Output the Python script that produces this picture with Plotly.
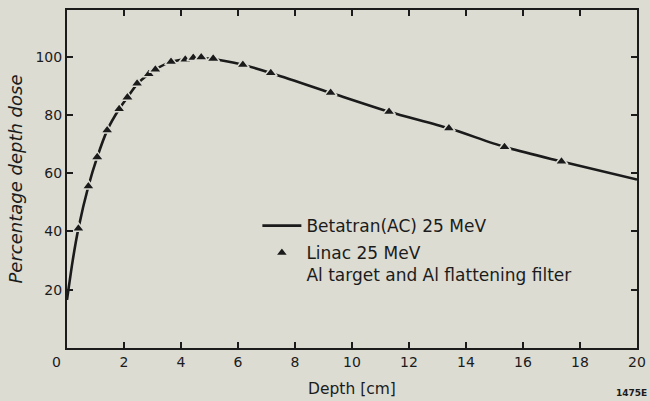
import plotly.graph_objects as go

# Betatran (AC) 25 MeV depth-dose curve
betatron_depth = [0.0, 0.2, 0.4, 0.75, 1.06, 1.41, 1.83, 2.12, 2.46, 2.87, 3.1,
                  3.65, 4.15, 4.7, 5.13, 6.17, 7.15, 9.25, 11.3, 13.4, 15.35,
                  17.35, 20.0]
betatron_dose = [16.5, 30.0, 41.0, 55.5, 65.5, 74.7, 82.0, 86.0, 90.6, 94.0, 95.6,
                 98.2, 99.0, 99.4, 99.2, 97.2, 94.4, 87.6, 81.1, 75.4, 69.0,
                 64.0, 57.8]

# Linac 25 MeV, Al target and Al flattening filter
linac_depth = [0.4, 0.75, 1.06, 1.41, 1.83, 2.12, 2.46, 2.87, 3.1, 3.65, 4.15,
               4.43, 4.71, 5.13, 6.17, 7.15, 9.25, 11.3, 13.4, 15.35, 17.35]
linac_dose = [41.0, 55.5, 65.5, 74.7, 82.0, 86.0, 90.8, 94.0, 95.6, 98.2, 99.0,
              99.6, 99.8, 99.3, 97.2, 94.4, 87.6, 81.1, 75.4, 69.0, 64.0]

x_ticks = [0, 2, 4, 6, 8, 10, 12, 14, 16, 18, 20]
y_ticks = [20, 40, 60, 80, 100]

INK = "#1b1b1b"
PAPER = "#dcdcd3"
FONT = "DejaVu Sans"

fig = go.Figure()

fig.add_trace(go.Scatter(
    x=betatron_depth, y=betatron_dose, mode="lines",
    line=dict(color=INK, width=2.6, shape="spline", smoothing=0.8),
    name="Betatran(AC) 25 MeV", legendgroup="a",
))

fig.add_trace(go.Scatter(
    x=linac_depth, y=linac_dose, mode="markers",
    marker=dict(symbol="triangle-up", size=11, color=INK,
                line=dict(color=PAPER, width=1.5)),
    name="Linac 25 MeV<br>Al target and Al flattening filter", legendgroup="b",
))

axis_common = dict(
    showline=True, linecolor=INK, linewidth=2, mirror="ticks",
    ticks="inside", ticklen=6, tickwidth=1.5, tickcolor=INK,
    showgrid=False, zeroline=False, automargin=False,
    tickfont=dict(family=FONT, size=14, color=INK),
)

fig.update_xaxes(
    range=[0, 20], tickvals=x_ticks,
    ticktext=[""] + [str(v) for v in x_ticks[1:]],
    title=dict(text="Depth [cm]", font=dict(family=FONT, size=15.5, color=INK), standoff=14),
    **axis_common,
)
fig.update_yaxes(
    range=[0, 116], tickvals=y_ticks,
    title=dict(text="<i>Percentage depth dose</i>", font=dict(family=FONT, size=18, color=INK), standoff=8),
    **axis_common,
)

# origin label shared by both axes
fig.add_annotation(x=0, y=0, xref="x", yref="y", text="0", showarrow=False,
                   xshift=-11, yshift=-14, font=dict(family=FONT, size=14, color=INK))

fig.add_annotation(x=1.0, y=0, xref="paper", yref="paper", text="<b>1475E</b>",
                   showarrow=False, xanchor="right", yanchor="top", xshift=12, yshift=-38,
                   font=dict(family=FONT, size=9, color=INK))

fig.update_layout(
    width=650, height=401,
    margin=dict(l=67, r=13, t=10, b=53),
    paper_bgcolor=PAPER, plot_bgcolor=PAPER,
    showlegend=True,
    legend=dict(x=0.334, y=0.414, xanchor="left", yanchor="top",
                bgcolor="rgba(0,0,0,0)", valign="top", tracegroupgap=2,
                itemwidth=39,
                font=dict(family=FONT, size=17, color=INK)),
)

fig.write_html("out.html")
